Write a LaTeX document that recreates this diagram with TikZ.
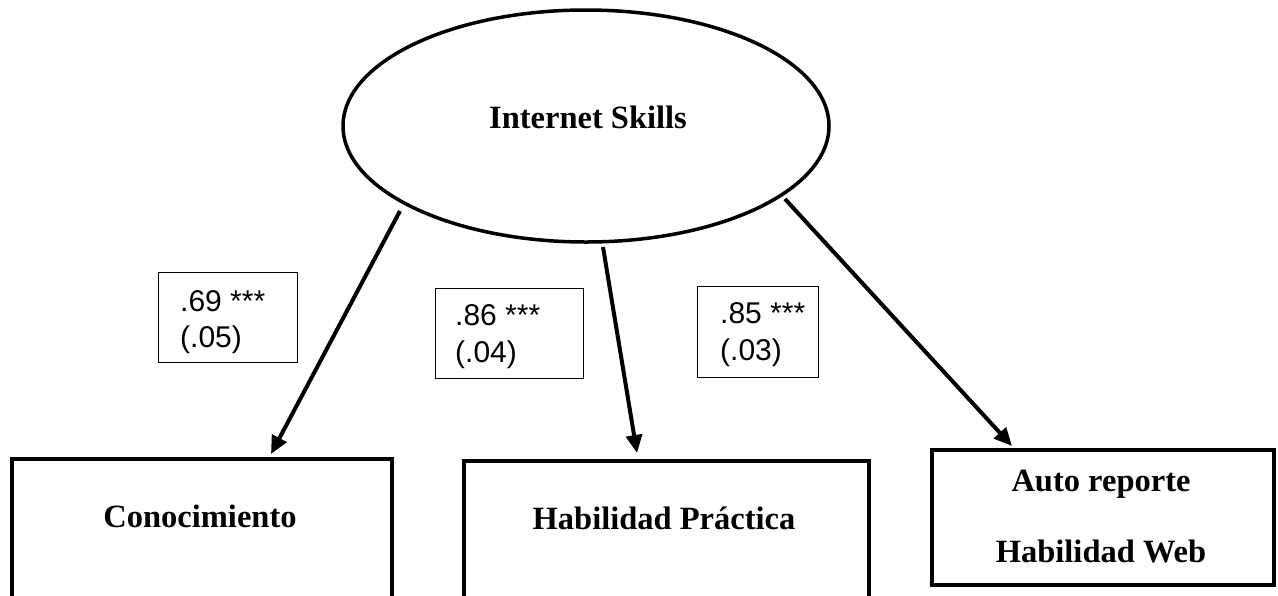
\documentclass[tikz,border=0pt]{standalone}
\usepackage{fontspec}
\setmainfont{Liberation Serif}
\newfontfamily\arialfont{Liberation Sans}
\usetikzlibrary{shapes.geometric,arrows.meta}
\begin{document}
\begin{tikzpicture}[x=1pt,y=-1pt,
  bigbox/.style={draw,line width=4pt,anchor=north west,inner sep=0pt},
  lbox/.style={draw,line width=1.3pt,anchor=north west,inner sep=0pt},
  btext/.style={anchor=base,inner sep=0pt,font=\fontsize{32.5}{38}\selectfont\bfseries},
  ltext/.style={anchor=base west,inner sep=0pt,font=\arialfont\fontsize{30}{34}\selectfont},
  arr/.style={line width=4pt,-{Triangle[length=18pt,width=16pt]}}]
\useasboundingbox (0,0) rectangle (1278,595);
\clip (0,0) rectangle (1278,595);
\fill[white] (0,0) rectangle (1278,595);
% latent variable
\node[ellipse,draw,line width=3.5pt,minimum width=486pt,minimum height=232pt,inner sep=0pt] (is) at (586,126) {};
\node[btext] (ist) at (588,128) {Internet Skills};
% indicator boxes
\node[bigbox,minimum width=380pt,minimum height=170pt] (k) at (10,457) {};
\node[btext] (kt) at (200,527) {Conocimiento};
\node[bigbox,minimum width=405pt,minimum height=170pt] (h) at (462,459) {};
\node[btext] (ht) at (664,529) {Habilidad Práctica};
\node[bigbox,minimum width=342pt,minimum height=135pt] (a) at (930,448) {};
\node[btext] (at1) at (1101,491) {Auto reporte};
\node[btext] (at2) at (1101,562) {Habilidad Web};
% arrows
\coordinate (s1) at (400,211);
\coordinate (t1) at (271,454);
\coordinate (s2) at (603,247);
\coordinate (t2) at (637,453);
\coordinate (s3) at (785,199);
\coordinate (t3) at (1012,446);
\draw[arr] (s1) -- (t1);
\draw[arr] (s2) -- (t2);
\draw[arr] (s3) -- (t3);
% loading labels
\node[lbox,minimum width=139pt,minimum height=90pt] (b1) at (158,272) {};
\node[ltext] (b1a) at (180,311) {.69 ***};
\node[ltext] (b1b) at (180,347) {(.05)};
\node[lbox,minimum width=148pt,minimum height=90pt] (b2) at (435,288) {};
\node[ltext] (b2a) at (455,325) {.86 ***};
\node[ltext] (b2b) at (455,362) {(.04)};
\node[lbox,minimum width=121pt,minimum height=91pt] (b3) at (697,286) {};
\node[ltext] (b3a) at (720,323) {.85 ***};
\node[ltext] (b3b) at (720,360) {(.03)};
\end{tikzpicture}
\end{document}
